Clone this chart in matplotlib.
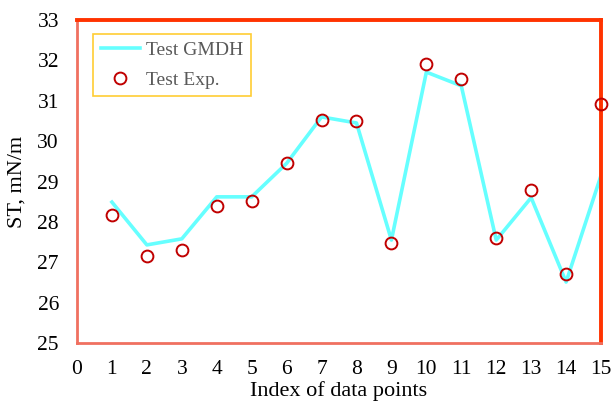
import matplotlib.pyplot as plt

plt.rcParams['font.family'] = ['Liberation Serif', 'DejaVu Serif']

idx = list(range(1, 16))
st_gmdh = [28.49, 27.43, 27.58, 28.62, 28.62, 29.45, 30.60, 30.45, 27.55,
           31.71, 31.37, 27.55, 28.60, 26.51, 29.15]
st_exp = [28.17, 27.15, 27.30, 28.39, 28.52, 29.46, 30.52, 30.50, 27.48,
          31.91, 31.54, 27.60, 28.79, 26.71, 30.92]

fig = plt.figure(figsize=(6.11, 4.01), dpi=100)
ax = fig.add_axes([0.126, 0.1446, 0.8577, 0.8055])

ax.plot(idx, st_gmdh, color='#66FFFF', lw=2.6, label='Test GMDH', zorder=2)
ax.plot(idx, st_exp, ls='none', marker='o', ms=8.5, mfc='none', mec='#C00000',
        mew=1.4, label='Test Exp.', zorder=3, clip_on=False)

ax.set_xlim(0, 15)
ax.set_ylim(25, 33)
ax.set_xticks(range(0, 16))
ax.set_yticks(range(25, 34))
ax.tick_params(length=0, labelsize=15.5)
ax.tick_params(axis='x', pad=12)
ax.tick_params(axis='y', pad=13)
ax.set_xlabel('Index of data points', fontsize=16, labelpad=2)
ax.set_ylabel('ST, mN/m', fontsize=16, labelpad=8)

for side in ('left', 'bottom'):
    ax.spines[side].set_color('#F07060')
    ax.spines[side].set_linewidth(2.0)
for side in ('top', 'right'):
    ax.spines[side].set_color('#FF3300')
    ax.spines[side].set_linewidth(2.8)

leg = ax.legend(loc='upper left', bbox_to_anchor=(0.031, 0.957), fontsize=14,
                frameon=True, fancybox=False, borderaxespad=0, borderpad=0.4,
                handlelength=2.0, handletextpad=0.3, labelspacing=0.6)
leg.get_frame().set_edgecolor('#FFC000')
leg.get_frame().set_linewidth(1.2)
for t in leg.get_texts():
    t.set_color('#595959')

fig.savefig('out.png', dpi=100)
